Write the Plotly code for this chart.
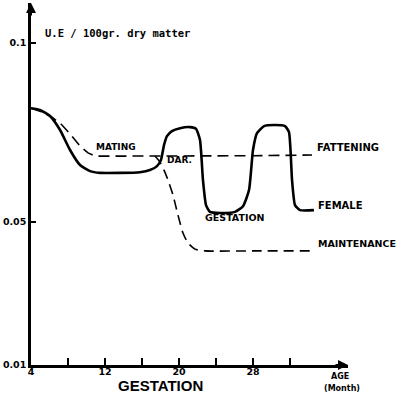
import plotly.graph_objects as go

# ---- data ----
female_x = [4, 4.97, 6.05, 7.14, 8.22, 9.30, 10.38, 11.46, 13.62, 15.78, 16.86, 17.62, 18.05, 18.38, 18.70, 19.24,
            20.11, 21.19, 21.84, 22.27, 22.59, 22.92, 23.35, 24.43, 26.05, 26.92, 27.57, 28.0, 28.43, 29.19,
            30.38, 31.46, 31.89, 32.22, 32.54, 33.08, 34.59]
female_y = [0.0818, 0.0813, 0.0796, 0.0757, 0.0701, 0.0659, 0.0642, 0.0637, 0.0637, 0.0639, 0.0645, 0.0656, 0.0673,
            0.0715, 0.0740, 0.0754, 0.0762, 0.0765, 0.0760, 0.0729, 0.0617, 0.0547, 0.0528, 0.0525, 0.0528,
            0.0544, 0.0589, 0.0701, 0.0748, 0.0768, 0.0771, 0.0768, 0.0751, 0.0617, 0.0547, 0.0533, 0.0533]

fattening_x = [4, 5.19, 6.27, 7.35, 8.22, 9.30, 10.16, 10.92, 13.62, 17.41, 22.0, 28.0, 34.38]
fattening_y = [0.0818, 0.0807, 0.0793, 0.0771, 0.0746, 0.0712, 0.0693, 0.0684, 0.0684, 0.0684, 0.0684, 0.0685, 0.0687]

maint_x = [17.41, 17.95, 18.38, 18.81, 19.35, 19.89, 20.43, 20.97, 21.73, 22.81, 28.0, 34.38]
maint_y = [0.0684, 0.0667, 0.0645, 0.0617, 0.0575, 0.0519, 0.0469, 0.0441, 0.0424, 0.0419, 0.0419, 0.0419]

x_ticks = [4, 8, 12, 16, 20, 24, 28, 32]
x_tick_text = ["4", "", "12", "", "20", "", "28", ""]
y_ticks = [0.01, 0.05, 0.1]
y_tick_text = ["0.01", "0.05", "0.1"]

X_MIN, X_MAX = 4, 38.27
Y_MIN, Y_MAX = 0.01, 0.1112

fig = go.Figure()
fig.add_trace(go.Scatter(x=female_x, y=female_y, mode="lines", line=dict(color="black", width=2.6, shape="spline", smoothing=0.5),
                         showlegend=False, hoverinfo="skip"))
fig.add_trace(go.Scatter(x=fattening_x, y=fattening_y, mode="lines", line=dict(color="black", width=1.6, dash="11px,6px"),
                         showlegend=False, hoverinfo="skip"))
fig.add_trace(go.Scatter(x=maint_x, y=maint_y, mode="lines", line=dict(color="black", width=1.6, dash="10px,6px", shape="spline", smoothing=0.5),
                         showlegend=False, hoverinfo="skip"))

lab = dict(family="DejaVu Sans", size=10, color="black", weight="bold")
anns = [
    dict(x=13.19, y=0.0709, text="MATING", xanchor="center", font=dict(lab, size=9)),
    dict(x=18.49, y=0.0673, text="DAR.", xanchor="left", font=dict(lab, size=9)),
    dict(x=26.05, y=0.0511, text="GESTATION", xanchor="center", font=dict(lab, size=9.5)),
    dict(x=34.70, y=0.0707, text="FATTENING", xanchor="left", font=lab),
    dict(x=34.81, y=0.0547, text="FEMALE", xanchor="left", font=lab),
    dict(x=34.81, y=0.0441, text="MAINTENANCE", xanchor="left", font=dict(lab, size=9.5)),
]
for a in anns:
    a.update(xref="x", yref="y", showarrow=False, yanchor="middle")
    fig.add_annotation(**a)

fig.add_annotation(xref="paper", yref="paper", x=0.038, y=0.917, text="U.E / 100gr. dry matter", showarrow=False,
                   xanchor="left", yanchor="middle", font=dict(family="DejaVu Sans Mono", size=10.5, color="black", weight="bold"))
fig.add_annotation(xref="paper", yref="paper", x=0.407, y=-0.058, text="GESTATION", showarrow=False,
                   xanchor="center", yanchor="middle", font=dict(family="Liberation Sans", size=15, color="black", weight="bold"))
fig.add_annotation(xref="paper", yref="paper", x=0.975, y=-0.033, text="AGE", showarrow=False,
                   xanchor="center", yanchor="middle", font=dict(family="DejaVu Sans", size=8, color="black", weight="bold"))
fig.add_annotation(xref="paper", yref="paper", x=0.98, y=-0.064, text="(Month)", showarrow=False,
                   xanchor="center", yanchor="middle", font=dict(family="DejaVu Sans", size=8, color="black", weight="bold"))

# axis arrowheads
fig.add_annotation(xref="paper", yref="paper", x=1.0, y=0.0, ax=-14, ay=0,
                   showarrow=True, arrowhead=2, arrowsize=1, arrowwidth=2, arrowcolor="black", text="")
fig.add_annotation(xref="paper", yref="paper", x=0.0, y=1.0, ax=0, ay=14,
                   showarrow=True, arrowhead=2, arrowsize=1, arrowwidth=2, arrowcolor="black", text="")

fig.update_xaxes(range=[X_MIN, X_MAX], tickvals=x_ticks, ticktext=x_tick_text, ticks="inside", ticklen=7, tickwidth=2,
                 tickcolor="black", showline=True, linecolor="black", linewidth=2.5, showgrid=False, zeroline=False,
                 ticklabelstandoff=-4,
                 tickfont=dict(family="DejaVu Sans", size=9.5, color="black", weight="bold"))
fig.update_yaxes(range=[Y_MIN, Y_MAX], tickvals=y_ticks, ticktext=y_tick_text, ticks="inside", ticklen=5, tickwidth=2,
                 tickcolor="black", showline=True, linecolor="black", linewidth=2.5, showgrid=False, zeroline=False,
                 tickfont=dict(family="DejaVu Sans", size=9.5, color="black", weight="bold"))
fig.update_layout(width=400, height=393, margin=dict(l=31, r=52, t=3, b=28), plot_bgcolor="white", paper_bgcolor="white")
fig.write_html("out.html")
